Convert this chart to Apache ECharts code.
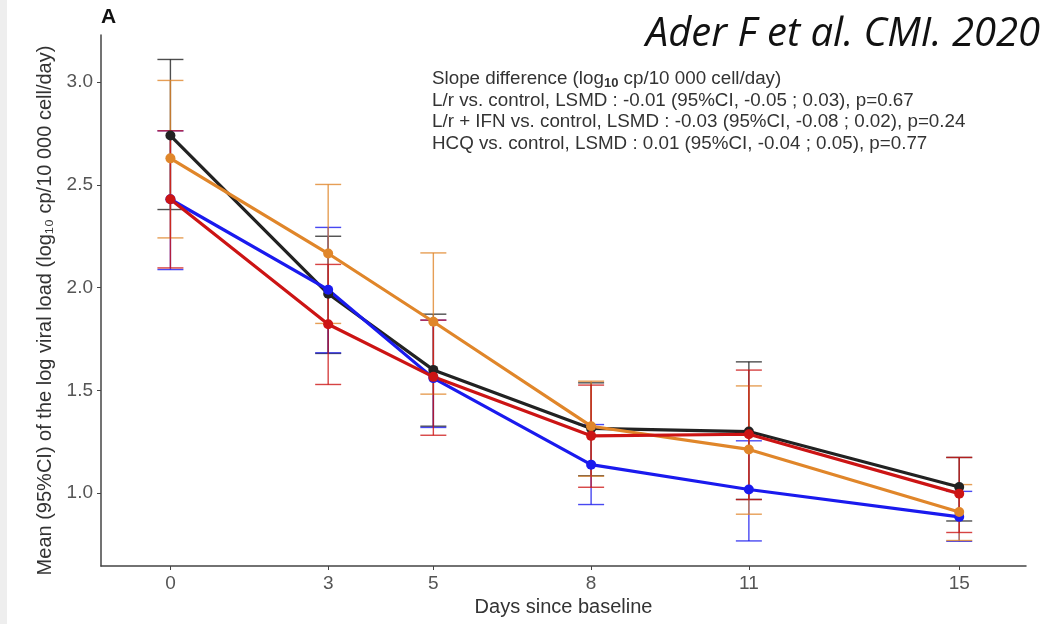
<!DOCTYPE html>
<html>
<head>
<meta charset="utf-8">
<title>Viral load over time</title>
<script src="https://cdn.jsdelivr.net/npm/echarts@6/dist/echarts.min.js"></script>
<style>
  html, body { margin: 0; padding: 0; background: #fff; }
  #chart { width: 1058px; height: 624px; }
</style>
</head>
<body>
<div id="chart"></div>
<script>
// days since baseline
const days = [0, 3, 5, 8, 11, 15]
const xTicks = [0, 3, 5, 8, 11, 15]
const yTicks = [1.0, 1.5, 2.0, 2.5, 3.0]

// mean log viral load and 95% CI per group
const controlMean = [2.74, 1.97, 1.60, 1.315, 1.30, 1.03]
const controlLow = [2.38, 1.68, 1.326, 1.085, 0.97, 0.865]
const controlHigh = [3.11, 2.25, 1.871, 1.537, 1.639, 1.174]

const lrMean = [2.43, 1.99, 1.56, 1.139, 1.018, 0.885]
const lrLow = [2.088, 1.683, 1.32, 0.945, 0.768, 0.766]
const lrHigh = [2.763, 2.293, 1.842, 1.334, 1.255, 1.009]

const lrIfnMean = [2.43, 1.822, 1.566, 1.279, 1.287, 0.998]
const lrIfnLow = [2.096, 1.529, 1.282, 1.029, 0.969, 0.809]
const lrIfnHigh = [2.763, 2.113, 1.842, 1.526, 1.599, 1.174]

const hcqMean = [2.629, 2.166, 1.834, 1.326, 1.213, 0.909]
const hcqLow = [2.242, 1.826, 1.482, 1.083, 0.898, 0.77]
const hcqHigh = [3.008, 2.502, 2.169, 1.545, 1.522, 1.042]

const groups = [
  { name: 'Control', color: '#222222', mean: controlMean, low: controlLow, high: controlHigh },
  { name: 'L/r', color: '#1a1aee', mean: lrMean, low: lrLow, high: lrHigh },
  { name: 'HCQ', color: '#e0862a', mean: hcqMean, low: hcqLow, high: hcqHigh },
  { name: 'L/r + IFN', color: '#cc1414', mean: lrIfnMean, low: lrIfnLow, high: lrIfnHigh }
]

const font = 'Liberation Sans, Arial, sans-serif'

const chart = echarts.init(document.getElementById('chart'))

const errorBar = (g) => ({
  type: 'custom',
  name: g.name + ' CI',
  z: 1,
  silent: true,
  data: days.map((d, i) => [d, g.low[i], g.high[i]]),
  encode: { x: 0, y: [1, 2] },
  renderItem: (params, api) => {
    const lo = api.coord([api.value(0), api.value(1)])
    const hi = api.coord([api.value(0), api.value(2)])
    const w = 13
    const style = { stroke: g.color, lineWidth: 1.4, opacity: 0.8 }
    return {
      type: 'group',
      children: [
        { type: 'line', shape: { x1: hi[0], y1: hi[1], x2: lo[0], y2: lo[1] }, style },
        { type: 'line', shape: { x1: hi[0] - w, y1: hi[1], x2: hi[0] + w, y2: hi[1] }, style },
        { type: 'line', shape: { x1: lo[0] - w, y1: lo[1], x2: lo[0] + w, y2: lo[1] }, style }
      ]
    }
  }
})

const meanLine = (g) => ({
  type: 'line',
  name: g.name,
  z: 3,
  data: days.map((d, i) => [d, g.mean[i]]),
  symbol: 'circle',
  symbolSize: 10,
  lineStyle: { color: g.color, width: 3.2 },
  itemStyle: { color: g.color },
  emphasis: { disabled: true }
})

const textLine = (y, text) => ({
  type: 'text',
  left: 432,
  top: y,
  style: {
    text,
    font: '18.8px ' + font,
    fill: '#333',
    rich: { sub: { fontSize: 13, fontWeight: 'bold', fontFamily: font, fill: '#333', padding: [9, 0, 0, 0] } }
  }
})

const option = {
  animation: false,
  grid: { left: 101, right: 32, top: 35, bottom: 58, outerBoundsMode: 'none' },
  xAxis: {
    type: 'value',
    min: -1.32,
    max: 16.27,
    name: 'Days since baseline',
    nameLocation: 'middle',
    nameGap: 31,
    nameTextStyle: { fontSize: 20, color: '#333', fontFamily: font },
    splitLine: { show: false },
    axisLine: { onZero: false, lineStyle: { color: '#444', width: 1.5 } },
    axisTick: { show: true, length: 4, customValues: xTicks, lineStyle: { color: '#444' } },
    axisLabel: { customValues: xTicks, color: '#555', fontSize: 19, fontFamily: font, margin: 8 }
  },
  yAxis: {
    type: 'value',
    min: 0.646,
    max: 3.229,
    name: 'Mean (95%CI) of the log viral load (log\u2081\u2080 cp/10 000 cell/day)',
    nameLocation: 'middle',
    nameGap: 44,
    nameTextStyle: { fontSize: 20, color: '#333', fontFamily: font, padding: [0, 20, 0, 0] },
    splitLine: { show: false },
    axisLine: { show: true, onZero: false, lineStyle: { color: '#444', width: 1.5 } },
    axisTick: { show: true, length: 4, customValues: yTicks, lineStyle: { color: '#444' } },
    axisLabel: {
      customValues: yTicks,
      color: '#555',
      fontSize: 19,
      fontFamily: font,
      margin: 8,
      formatter: (v) => v.toFixed(1)
    }
  },
  graphic: [
    { type: 'rect', left: 0, top: 0, shape: { width: 7, height: 624 }, style: { fill: '#eeeeee' } },
    { type: 'text', left: 101, top: 7, style: { text: 'A', font: 'bold 21px ' + font, fill: '#111' } },
    {
      type: 'text',
      right: 18,
      top: 15,
      style: { text: 'Ader F et al. CMI. 2020', font: 'italic 40px Open Sans, ' + font, fill: '#111' }
    },
    textLine(69, 'Slope difference (log{sub|10} cp/10 000 cell/day)'),
    textLine(91, 'L/r vs. control, LSMD : -0.01 (95%CI, -0.05 ; 0.03), p=0.67'),
    textLine(112.5, 'L/r + IFN vs. control, LSMD : -0.03 (95%CI, -0.08 ; 0.02), p=0.24'),
    textLine(134, 'HCQ vs. control, LSMD : 0.01 (95%CI, -0.04 ; 0.05), p=0.77')
  ],
  series: [...groups.map(errorBar), ...groups.map(meanLine)]
}

chart.setOption(option)
window.addEventListener('resize', () => chart.resize())
</script>
</body>
</html>
